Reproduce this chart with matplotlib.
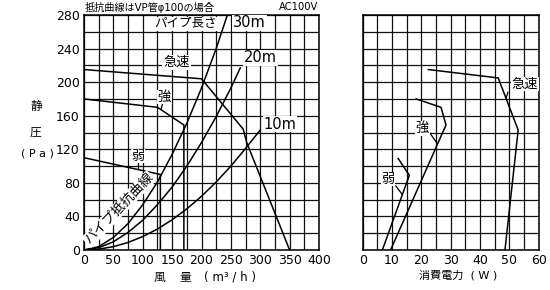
import matplotlib
matplotlib.use("Agg")
import matplotlib.pyplot as plt

plt.rcParams['font.family'] = ['DejaVu Sans', 'Noto Sans CJK JP']

# ---- data ----
# fan operating curves (airflow m3/h, static pressure Pa)
rapid_q = [0, 200, 271, 277, 350]
rapid_p = [215, 204, 144, 128, 0]
strong_q = [0, 125, 170, 170]
strong_p = [180, 170, 149, 0]
weak_q = [0, 130, 130]
weak_p = [110, 90, 0]

# pipe resistance curves
pipe30_q = [0, 25, 50, 75, 100, 125, 150, 175, 200, 225, 244]
pipe30_p = [0, 4, 15, 31.5, 54, 81, 114, 151, 193, 240, 280]
pipe20_q = [0, 25, 50, 75, 100, 125, 150, 175, 200, 225, 250, 266]
pipe20_p = [0, 2.7, 9.8, 21, 35.5, 54, 75, 100, 128, 159, 193, 217]
pipe10_q = [0, 25, 50, 75, 100, 125, 150, 175, 200, 225, 250, 275, 300]
pipe10_p = [0, 1, 4, 9, 16, 25, 36, 49, 64, 81, 100, 121, 143]

# power consumption (W, static pressure Pa)
rapid_w = [22.4, 46.2, 53.0, 48.5]
rapid_wp = [215, 205, 143, 0]
strong_w = [18.2, 26.7, 28.4, 9.5]
strong_wp = [180, 170, 149, 0]
weak_w = [12.1, 15.9, 6.7]
weak_wp = [109, 89, 0]

W, H = 550, 290
fig = plt.figure(figsize=(W / 100, H / 100), dpi=100)


def ax_rect(x0, x1, y0, y1):
    return [x0 / W, 1 - y1 / H, (x1 - x0) / W, (y1 - y0) / H]


def ftext(x, y, s, **kw):
    fig.text(x / W, 1 - y / H, s, **kw)


grid_kw = dict(color='#111111', lw=0.9)
white = dict(facecolor='white', edgecolor='none', pad=0.6)

# ---------------- left axes ----------------
ax = fig.add_axes(ax_rect(84, 319, 15, 250))
ax.set_xlim(0, 400)
ax.set_ylim(0, 280)
ax.set_xticks(range(0, 401, 50))
ax.set_xticks(range(0, 401, 25), minor=True)
ax.set_yticks(range(0, 281, 40))
ax.set_yticks(range(0, 281, 20), minor=True)
ax.grid(True, which='both', **grid_kw)
ax.set_axisbelow(True)
ax.tick_params(which='both', length=0, labelsize=9, pad=3)
for s in ax.spines.values():
    s.set_linewidth(1.1)
    s.set_color('black')

lk = dict(color='black', lw=1.1, zorder=3)
ax.plot(rapid_q, rapid_p, **lk)
ax.plot(strong_q, strong_p, **lk)
ax.plot(weak_q, weak_p, **lk)
ax.plot(pipe30_q, pipe30_p, **lk)
ax.plot(pipe20_q, pipe20_p, **lk)
ax.plot(pipe10_q, pipe10_p, **lk)

tk = dict(ha='center', va='center', zorder=5, bbox=white)
ax.text(172.8, 269.4, 'パイプ長さ', fontsize=9, **tk)
ax.text(281.7, 270.5, '30m', fontsize=10.5, **tk)
ax.text(301, 228.8, '20m', fontsize=10.5, **tk)
ax.text(333.6, 150, '10m', fontsize=10.5, **tk)
ax.text(157.4, 223.5, '急速', fontsize=9.5, **tk)
ax.text(137, 182.4, '強', fontsize=9.5, **tk)
ax.text(92, 112, '弱', fontsize=9.5, **tk)
ax.plot([134, 131], [175, 167.5], color='black', lw=0.9, zorder=4)
ax.plot([92, 92], [104, 96], color='black', lw=0.9, zorder=4)
ax.text(59.6, 48.9, 'パイプ抵抗曲線', fontsize=9.5, rotation=46,
        rotation_mode='anchor', ha='center', va='center', zorder=5, bbox=white)

# ---------------- right axes ----------------
ax2 = fig.add_axes(ax_rect(362.7, 538.7, 15, 250))
ax2.set_xlim(0, 60)
ax2.set_ylim(0, 280)
ax2.set_xticks(range(0, 61, 10))
ax2.set_xticks(range(0, 61, 5), minor=True)
ax2.set_yticks(range(0, 281, 20))
ax2.set_yticklabels([])
ax2.grid(True, which='both', **grid_kw)
ax2.set_axisbelow(True)
ax2.tick_params(which='both', length=0, labelsize=9, pad=3)
for s in ax2.spines.values():
    s.set_linewidth(1.1)
    s.set_color('black')

ax2.plot(rapid_w, rapid_wp, **lk)
ax2.plot(strong_w, strong_wp, **lk)
ax2.plot(weak_w, weak_wp, **lk)
ax2.text(55.2, 197.9, '急速', fontsize=9.5, **tk)
ax2.text(20.4, 144.8, '強', fontsize=9.5, **tk)
ax2.text(8.6, 84.6, '弱', fontsize=9.5, **tk)
ax2.plot([49.5, 48.9], [188, 181], color='black', lw=0.9, zorder=4)
ax2.plot([22.9, 25.2], [139.4, 128], color='black', lw=0.9, zorder=4)
ax2.plot([11.3, 13.5], [76.3, 66], color='black', lw=0.9, zorder=4)

# ---------------- figure texts ----------------
ftext(85, 7.5, '抵抗曲線はVP管φ100の場合', fontsize=7.3, ha='left', va='center')
ftext(318, 7.5, 'AC100V', fontsize=7.2, ha='right', va='center')
ftext(36, 106, '静', fontsize=8.5, ha='center', va='center')
ftext(36, 132, '圧', fontsize=8.5, ha='center', va='center')
ftext(37.5, 153, '( P a )', fontsize=8, ha='center', va='center')
ftext(159, 277, '風', fontsize=8.5, ha='center', va='center')
ftext(185, 277, '量', fontsize=8.5, ha='center', va='center')
ftext(229.5, 277, '( m³ / h )', fontsize=8.5, ha='center', va='center')
ftext(458, 275, '消費電力  ( W )', fontsize=8, ha='center', va='center')

fig.savefig('out.png', dpi=100)
